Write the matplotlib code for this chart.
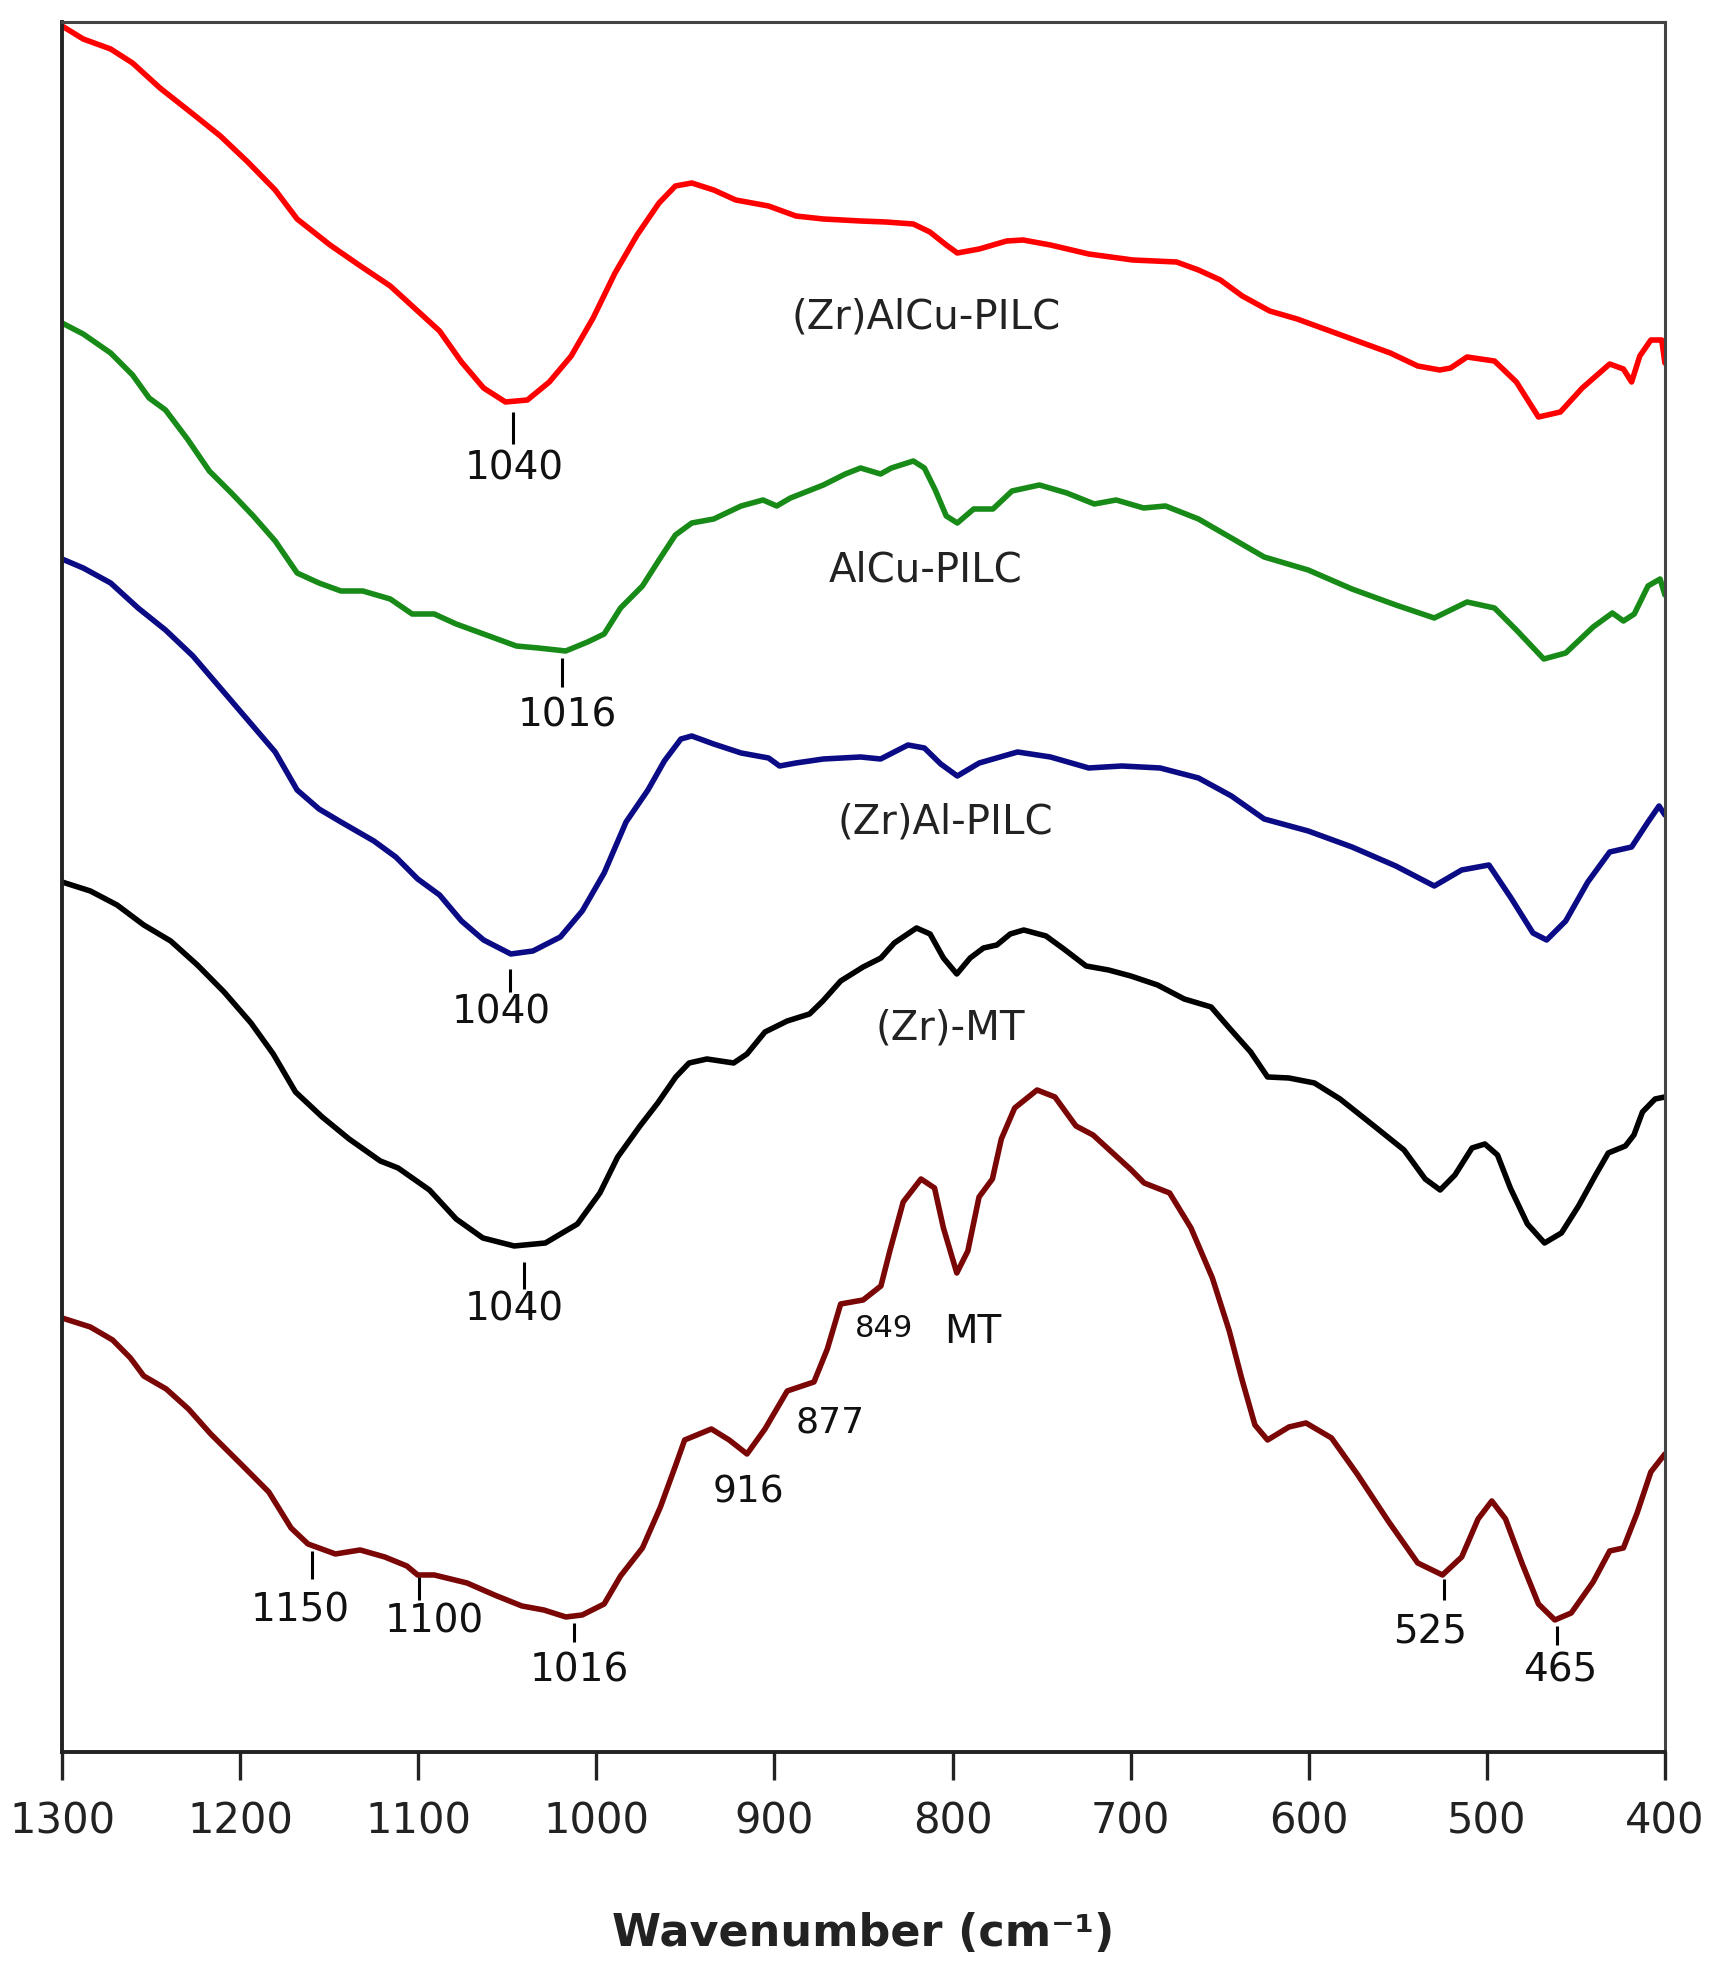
import matplotlib.pyplot as plt

# wavenumber (cm-1) / transmittance (a.u., offset)
red_wn = [1300, 1288.1, 1272.7, 1260.4, 1245.0, 1226.5, 1211.1, 1195.7, 1180.3, 1168.0, 1149.5, 1134.1,
          1115.7, 1100.3, 1088.0, 1075.7, 1063.3, 1051.0, 1038.7, 1026.4, 1014.1, 1001.8, 989.5, 977.1,
          964.8, 955.6, 946.4, 934.1, 921.7, 903.3, 887.9, 872.5, 851.6, 837.4, 822.0, 812.7, 803.5,
          797.3, 785.0, 769.6, 760.4, 745.0, 723.5, 698.8, 674.2, 661.9, 649.6, 637.3, 621.9, 606.5,
          588.0, 569.6, 554.2, 538.8, 526.4, 520.3, 511.1, 495.7, 483.4, 471.0, 458.7, 446.4, 431.0,
          423.3, 418.7, 414.1, 407.9, 401.8, 400]
red_t = [17.26, 17.13, 17.03, 16.89, 16.64, 16.38, 16.16, 15.90, 15.62, 15.33, 15.07, 14.88,
         14.66, 14.41, 14.21, 13.90, 13.64, 13.50, 13.52, 13.70, 13.96, 14.34, 14.79, 15.17,
         15.49, 15.66, 15.69, 15.62, 15.52, 15.46, 15.36, 15.33, 15.31, 15.30, 15.28, 15.20, 15.07,
         14.99, 15.03, 15.11, 15.12, 15.07, 14.98, 14.92, 14.90, 14.82, 14.72, 14.56, 14.41, 14.33,
         14.21, 14.09, 13.99, 13.86, 13.82, 13.84, 13.95, 13.91, 13.70, 13.35, 13.40, 13.64, 13.88,
         13.83, 13.70, 13.96, 14.12, 14.12, 13.89]

green_wn = [1300, 1288.1, 1272.7, 1260.4, 1251.1, 1241.9, 1229.6, 1217.3, 1204.9, 1192.6, 1180.3, 1168.0,
            1155.7, 1143.4, 1131.1, 1115.7, 1103.4, 1091.0, 1078.7, 1063.3, 1044.9, 1032.6, 1017.2,
            1004.9, 995.6, 986.4, 974.1, 964.8, 955.6, 946.4, 934.1, 918.7, 906.4, 898.7, 891.0, 872.5,
            860.2, 851.6, 840.4, 834.3, 822.0, 815.8, 809.7, 803.5, 797.3, 788.1, 777.3, 766.6, 751.2,
            735.8, 720.4, 708.1, 692.7, 680.4, 661.9, 643.4, 625.0, 600.3, 575.7, 551.1, 529.5, 511.1,
            495.7, 483.4, 468.0, 455.7, 440.3, 429.5, 423.3, 417.2, 409.5, 402.7, 400]
green_t = [14.29, 14.18, 13.99, 13.77, 13.54, 13.42, 13.13, 12.81, 12.59, 12.36, 12.11, 11.79,
           11.69, 11.61, 11.61, 11.53, 11.38, 11.38, 11.28, 11.18, 11.06, 11.04, 11.01,
           11.10, 11.18, 11.44, 11.66, 11.92, 12.17, 12.29, 12.33, 12.46, 12.52, 12.46, 12.54, 12.67,
           12.78, 12.84, 12.78, 12.84, 12.91, 12.84, 12.62, 12.36, 12.29, 12.43, 12.43, 12.61, 12.67,
           12.59, 12.48, 12.52, 12.44, 12.46, 12.33, 12.14, 11.95, 11.82, 11.63, 11.47, 11.34, 11.50,
           11.44, 11.22, 10.93, 10.99, 11.25, 11.39, 11.31, 11.38, 11.66, 11.73, 11.57]

blue_wn = [1300, 1288.1, 1272.7, 1257.3, 1241.9, 1226.5, 1211.1, 1195.7, 1180.3, 1168.0, 1155.7, 1143.4,
           1124.9, 1112.6, 1100.3, 1088.0, 1075.7, 1063.3, 1048.0, 1035.6, 1020.2, 1007.9, 995.6, 983.3,
           971.0, 961.8, 952.5, 946.4, 934.1, 918.7, 903.3, 897.1, 887.9, 872.5, 851.6, 840.4, 825.0,
           815.8, 806.6, 797.3, 785.0, 763.5, 745.0, 723.5, 705.0, 683.4, 661.9, 643.4, 625.0, 600.3,
           575.7, 551.1, 529.5, 514.1, 498.8, 486.4, 474.1, 466.4, 455.7, 443.3, 431.0, 418.7, 409.5,
           403.3, 400]
blue_t = [11.93, 11.84, 11.69, 11.44, 11.22, 10.96, 10.64, 10.32, 10.00, 9.62, 9.43, 9.30,
          9.11, 8.95, 8.73, 8.57, 8.31, 8.12, 7.98, 8.01, 8.15, 8.41, 8.79, 9.30,
          9.62, 9.91, 10.13, 10.16, 10.08, 9.99, 9.94, 9.86, 9.89, 9.93, 9.95, 9.93, 10.07,
          10.04, 9.88, 9.76, 9.89, 10.00, 9.95, 9.84, 9.86, 9.84, 9.74, 9.56, 9.33, 9.21,
          9.05, 8.86, 8.66, 8.82, 8.87, 8.54, 8.19, 8.12, 8.31, 8.70, 9.00, 9.05, 9.30,
          9.46, 9.37]

black_wn = [1300, 1284.1, 1269.1, 1254.1, 1239.0, 1224.0, 1209.0, 1193.9, 1181.4, 1168.9, 1153.9, 1138.8,
            1121.3, 1111.3, 1093.7, 1078.7, 1063.7, 1046.1, 1028.6, 1010.6, 998.0, 988.0, 975.5, 965.5,
            955.4, 947.9, 937.9, 922.9, 915.4, 905.3, 892.8, 880.3, 872.8, 862.8, 850.2, 840.2, 832.7,
            820.2, 812.6, 805.1, 797.6, 790.1, 782.6, 775.1, 767.6, 760.0, 747.5, 737.5, 725.0, 712.4,
            699.9, 684.9, 669.9, 654.8, 644.6, 632.6, 623.1, 611.1, 596.8, 582.4, 563.3, 546.5, 534.6,
            526.2, 517.9, 508.3, 501.1, 494.0, 486.8, 477.2, 467.6, 458.1, 448.5, 438.9, 431.8, 422.2,
            417.4, 412.6, 405.5, 400]
black_t = [8.70, 8.61, 8.47, 8.27, 8.11, 7.87, 7.60, 7.29, 6.98, 6.60, 6.35, 6.13,
           5.91, 5.84, 5.62, 5.33, 5.14, 5.06, 5.09, 5.28, 5.59, 5.95, 6.26, 6.49,
           6.75, 6.89, 6.93, 6.89, 6.98, 7.20, 7.31, 7.38, 7.51, 7.71, 7.85, 7.94, 8.09,
           8.24, 8.18, 7.94, 7.78, 7.94, 8.04, 8.07, 8.18, 8.22, 8.16, 8.03, 7.86, 7.82,
           7.76, 7.67, 7.53, 7.45, 7.24, 7.00, 6.75, 6.74, 6.69, 6.53, 6.26, 6.02, 5.73,
           5.62, 5.77, 6.04, 6.08, 5.97, 5.64, 5.28, 5.09, 5.19, 5.46, 5.77, 5.99, 6.06,
           6.17, 6.40, 6.53, 6.55]

mt_wn = [1300, 1284.1, 1271.6, 1261.6, 1254.1, 1241.5, 1229.0, 1216.5, 1199.0, 1183.9, 1171.4, 1161.9,
         1146.5, 1132.6, 1118.8, 1106.4, 1100.3, 1091.0, 1072.6, 1057.2, 1041.8, 1029.5, 1017.1, 1007.9,
         995.6, 986.4, 974.1, 964.0, 955.6, 950.4, 935.4, 925.4, 915.4, 905.3, 892.8, 877.8, 870.3,
         862.8, 850.2, 840.2, 835.2, 827.7, 817.7, 810.1, 805.1, 797.6, 791.4, 785.1, 777.6, 772.6,
         765.1, 752.5, 742.5, 730.7, 721.1, 699.6, 692.4, 678.1, 666.1, 654.1, 644.6, 637.4, 630.2,
         623.1, 611.1, 601.5, 587.2, 572.8, 555.0, 538.8, 524.9, 514.1, 504.9, 497.2, 489.5, 480.3,
         471.0, 461.8, 452.6, 440.3, 431.0, 423.3, 415.6, 407.9, 400]
mt_t = [4.34, 4.25, 4.12, 3.94, 3.76, 3.63, 3.43, 3.18, 2.87, 2.60, 2.24, 2.08,
        1.98, 2.02, 1.95, 1.86, 1.77, 1.77, 1.69, 1.57, 1.46, 1.42, 1.35, 1.37,
        1.48, 1.76, 2.04, 2.45, 2.86, 3.12, 3.23, 3.12, 2.98, 3.23, 3.61, 3.70, 4.03,
        4.48, 4.52, 4.66, 5.01, 5.50, 5.73, 5.64, 5.24, 4.79, 5.01, 5.55, 5.73, 6.13,
        6.44, 6.62, 6.55, 6.26, 6.17, 5.82, 5.69, 5.59, 5.24, 4.74, 4.21, 3.72, 3.27,
        3.12, 3.25, 3.29, 3.14, 2.78, 2.30, 1.89, 1.77, 1.95, 2.33, 2.51, 2.33, 1.89,
        1.48, 1.32, 1.39, 1.70, 2.01, 2.04, 2.39, 2.80, 2.98]

series = [
    (red_wn, red_t, '#ff0000'),
    (green_wn, green_t, '#178a17'),
    (blue_wn, blue_t, '#0b0b85'),
    (black_wn, black_t, '#000000'),
    (mt_wn, mt_t, '#7a0606'),
]

# sample names: text, x, y
names = ['(Zr)AlCu-PILC', 'AlCu-PILC', '(Zr)Al-PILC', '(Zr)-MT']
names_x = [815, 815, 804, 801]
names_y = [14.35, 11.82, 9.30, 7.24]

# band marks: label, tick x, tick top, tick bottom, label x, label y
band_lab = ['1040', '1016', '1040', '1040', '1150', '1100', '1016', '525', '465']
band_x = [1046.9, 1019.4, 1048.6, 1040.7, 1159.7, 1099.7, 1012.7, 523.9, 460.5]
band_top = [13.40, 10.94, 7.83, 4.90, 2.01, 1.75, 1.29, 1.73, 1.26]
band_bot = [13.08, 10.65, 7.60, 4.63, 1.73, 1.52, 1.10, 1.52, 1.07]
band_lx = [1045.8, 1016.0, 1053.6, 1046.3, 1166.4, 1091.2, 1009.3, 531.8, 458.8]
band_ly = [12.84, 10.37, 7.40, 4.43, 1.42, 1.31, 0.82, 1.20, 0.82]

# free labels on the MT trace
free_lab = ['849', 'MT', '877', '916']
free_x = [838.2, 788.8, 868.5, 914.5]
free_y = [4.24, 4.21, 3.30, 2.60]
free_size = [22, 28, 26, 27]

fig = plt.figure(figsize=(17.18, 19.83), dpi=100)
ax = fig.add_axes([0.0361, 0.1160, 0.9330, 0.8724])

for wn, t, c in series:
    ax.plot(wn, t, color=c, lw=4.0, solid_joinstyle='round', solid_capstyle='round')

for s, x, y in zip(names, names_x, names_y):
    ax.text(x, y, s, ha='center', va='center', fontsize=29, color='#222222')

ax.vlines(band_x, band_bot, band_top, color='black', lw=2.2)
for s, x, y in zip(band_lab, band_lx, band_ly):
    ax.text(x, y, s, ha='center', va='center', fontsize=28, color='#111111')

for s, x, y, fs in zip(free_lab, free_x, free_y, free_size):
    ax.text(x, y, s, ha='center', va='center', fontsize=fs, color='#111111')

ax.set_xlim(1300, 400)
ax.set_ylim(0, 17.30)
ax.set_xticks(range(1300, 399, -100))
ax.set_yticks([])
ax.tick_params(axis='x', direction='out', length=20, width=2.4, labelsize=30,
               pad=14, colors='#222222')
for side in ['left', 'bottom']:
    ax.spines[side].set_linewidth(2.8)
    ax.spines[side].set_color('#222222')
for side in ['top', 'right']:
    ax.spines[side].set_linewidth(2.2)
    ax.spines[side].set_color('#444444')

ax.set_xlabel('Wavenumber (cm⁻¹)', fontsize=32, fontweight='bold', labelpad=50,
              color='#222222')

fig.savefig('out.png', dpi=100)
